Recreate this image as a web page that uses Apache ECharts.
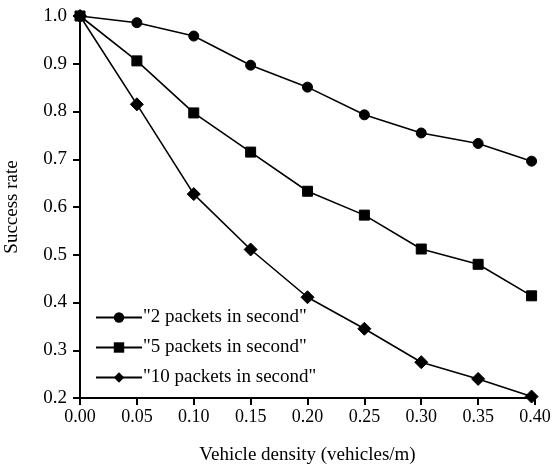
<!DOCTYPE html>
<html><head><meta charset="utf-8">
<script src="https://cdn.jsdelivr.net/npm/echarts@6/dist/echarts.min.js"></script>
<style>html,body{margin:0;padding:0;background:#fff}#c{width:557px;height:470px}</style>
</head><body><div id="c"></div>
<script>
const xValues = [0.00, 0.05, 0.10, 0.15, 0.20, 0.25, 0.30, 0.35, 0.397];
const seriesNames = ['"2 packets in second"', '"5 packets in second"', '"10 packets in second"'];
const rate2 = [1.000, 0.986, 0.958, 0.897, 0.851, 0.793, 0.755, 0.733, 0.696];
const rate5 = [1.000, 0.906, 0.797, 0.715, 0.633, 0.583, 0.512, 0.480, 0.414];
const rate10 = [1.000, 0.815, 0.627, 0.511, 0.411, 0.345, 0.275, 0.240, 0.203];
const symbols = ['circle', 'rect', 'diamond'];
const symbolSizes = [10, 10, 13];
const xTitle = 'Vehicle density (vehicles/m)';
const yTitle = 'Success rate';

const font = 'Liberation Serif, Times New Roman, serif';
const allRates = [rate2, rate5, rate10];
const chart = echarts.init(document.getElementById('c'), null, {renderer: 'canvas'});
chart.setOption({
  animation: false,
  backgroundColor: '#fff',
  grid: {left: 80, right: 22, top: 16, bottom: 72, containLabel: false, outerBoundsMode: 'none'},
  legend: {
    orient: 'vertical', left: 90, top: 303, itemGap: 11,
    itemWidth: 46, itemHeight: 13,
    textStyle: {fontFamily: font, fontSize: 19, color: '#000', padding: [0,0,0,-4]},
    data: seriesNames
  },
  xAxis: {
    type: 'value', min: 0, max: 0.40, interval: 0.05,
    name: xTitle, nameLocation: 'middle', nameGap: 48,
    nameTextStyle: {fontFamily: font, fontSize: 19, color: '#000'},
    axisLine: {show: true, onZero: false, lineStyle: {color: '#000', width: 2}},
    axisTick: {show: true, inside: false, length: 7, lineStyle: {color: '#000', width: 2}},
    axisLabel: {fontFamily: font, fontSize: 18, color: '#000', margin: 10, formatter: v => v.toFixed(2)},
    splitLine: {show: false}
  },
  yAxis: {
    type: 'value', min: 0.2, max: 1.0, interval: 0.1,
    name: yTitle, nameLocation: 'middle', nameGap: 58, nameRotate: 90,
    nameTextStyle: {fontFamily: font, fontSize: 19, color: '#000'},
    axisLine: {show: true, lineStyle: {color: '#000', width: 2}},
    axisTick: {show: true, inside: false, length: 7, lineStyle: {color: '#000', width: 2}},
    axisLabel: {fontFamily: font, fontSize: 19, color: '#000', margin: 13, formatter: v => v.toFixed(1)},
    splitLine: {show: false}
  },
  series: seriesNames.map((name, i) => ({
    name: name, type: 'line',
    data: xValues.map((x, j) => [x, allRates[i][j]]),
    symbol: symbols[i], symbolSize: symbolSizes[i], showAllSymbol: true,
    lineStyle: {color: '#000', width: 1.6},
    itemStyle: {color: '#000', borderColor: '#000'},
    z: 3 - i
  }))
});
</script></body></html>
